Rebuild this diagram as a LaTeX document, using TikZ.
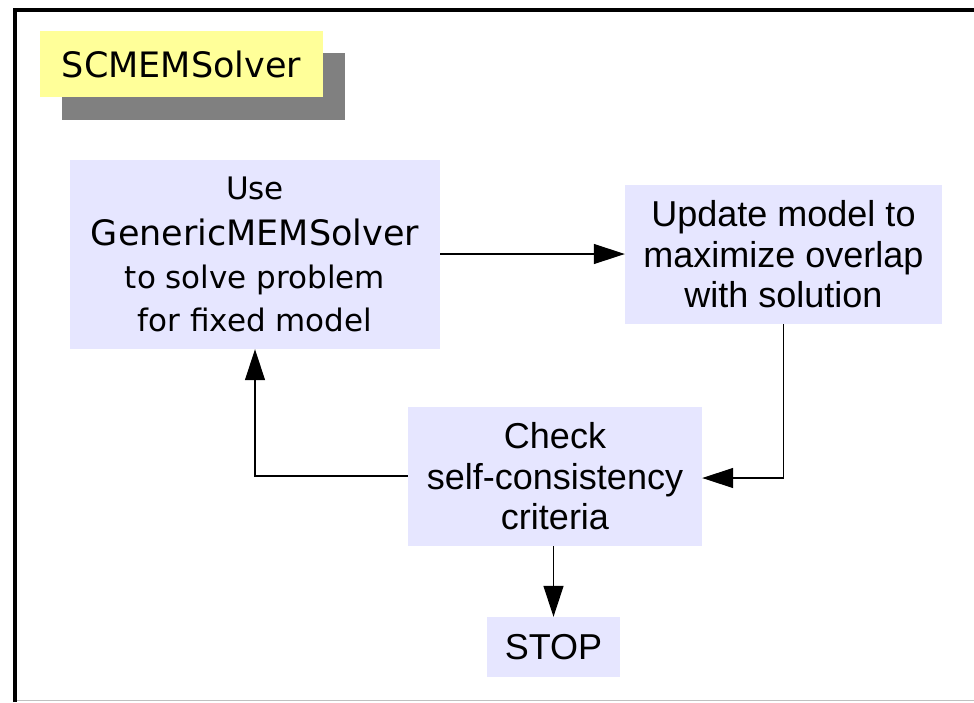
\documentclass[tikz,border=0pt]{standalone}
\usepackage{fontspec}
\setmainfont{Liberation Sans}
\newfontfamily\verd{DejaVu Sans}
\usetikzlibrary{arrows.meta}
\definecolor{lav}{HTML}{E6E6FF}
\definecolor{titleyellow}{HTML}{FFFF99}
\definecolor{shadowgray}{HTML}{808080}
\begin{document}
\begin{tikzpicture}[x=1pt,y=-1pt,
  box/.style={fill=lav, draw=none, align=center, inner sep=0pt, text=black},
  conn/.style={line width=1.2pt, -{Triangle[length=31pt,width=20pt]}},
  plain/.style={line width=1.2pt}]
\useasboundingbox (0,0) rectangle (974,702);
% frame
\draw[shadowgray!50, line width=1pt] (15,700) -- (974,700);
\draw[black, line width=4pt] (15,702) -- (15,10) -- (974,10);
% title
\fill[shadowgray] (62,53) rectangle (345,120);
\node[fill=titleyellow, minimum width=283pt, minimum height=66pt, inner sep=0pt, font=\verd\fontsize{35}{40}\selectfont] (title) at (181.5,64) {SCMEMSolver};
% boxes
\node[box, minimum width=370pt, minimum height=189pt, font=\verd\fontsize{31}{43}\selectfont] (solve) at (255,254.5)
  {Use\\[3pt]{\fontsize{35}{43}\selectfont GenericMEMSolver}\\to solve problem\\for fixed model};
\node[box, minimum width=317pt, minimum height=139pt, font=\fontsize{36}{40.5}\selectfont] (update) at (783.5,254.5)
  {Update model to\\maximize overlap\\with solution};
\node[box, minimum width=294pt, minimum height=139pt, font=\fontsize{36}{40.5}\selectfont] (check) at (555,476.5)
  {Check\\self-consistency\\criteria};
\node[box, minimum width=133pt, minimum height=60pt, font=\fontsize{36}{40.5}\selectfont] (stop) at (553.5,647)
  {STOP};
% connectors
\draw[conn] (solve.east |- 0,254) -- (update.west |- 0,254);
\draw[conn] (update.south) |- (check.east |- 0,478);
\draw[conn] (check.west |- 0,476) -| (solve.south);
\draw[conn] (check.south -| stop.north) -- (stop.north);
\end{tikzpicture}
\end{document}
